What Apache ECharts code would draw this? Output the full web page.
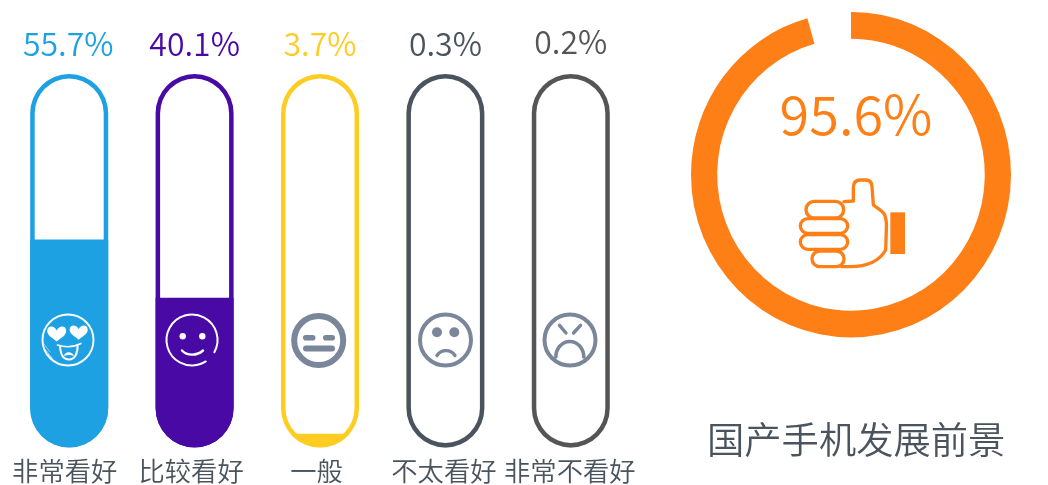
<!DOCTYPE html>
<html><head><meta charset="utf-8">
<style>html,body{margin:0;padding:0;background:#fff}#c{width:1048px;height:485px}</style>
<script src="https://cdn.jsdelivr.net/npm/echarts@6/dist/echarts.min.js"></script>
</head><body><div id="c"></div>
<script>
const categories = ['非常看好','比较看好','一般','不太看好','非常不看好'];
const shares = [55.7, 40.1, 3.7, 0.3, 0.2];
const shareColors = ['#1EA1E3','#4809A4','#FFCC22','#4A545E','#555555'];
const labelColors = ['#1EA1E3','#4809A4','#FFCC22','#4A545E','#555555'];
const positiveShare = [95.6];
const positiveTitle = '国产手机发展前景';
const FONT = '"Noto Sans CJK SC DemiLight","Noto Sans CJK SC","Noto Sans",sans-serif';
const ORANGE = '#FF7F17', GRAY = '#7A8699', INK = '#4A545E';

const capsule = 'path://M0 39A39 39 0 0 1 78 39V333A39 39 0 0 1 0 333Z';
const capsuleRing = capsule + 'M4.5 39V333A34.5 34.5 0 0 0 73.5 333V39A34.5 34.5 0 0 0 4.5 39Z';
const labelShift = [9, 7, 7, 3, 2];

function stroke(w, c) { return { fill: 'none', stroke: c, lineWidth: w, lineCap: 'round', lineJoin: 'round' }; }
function fillS(c) { return { fill: c }; }
let shapeId = 0;
function pathEl(d, style, extra) {
  const name = 'iconPath' + (shapeId++);
  echarts.graphic.registerShape(name, echarts.graphic.extendPath(d));
  return Object.assign({ type: name, style }, extra || {});
}
const heart = 'M0 7.5C-4 4 -9.5 1.5 -9.5 -3C-9.5 -8.5 -2.5 -9 0 -3.5C2.5 -9 9.5 -8.5 9.5 -3C9.5 1.5 4 4 0 7.5Z';

const icons = [
  // hearts-eyes face
  { type:'circle', shape:{cx:68,cy:340,r:25.5}, style:stroke(1.9,'#fff') },
  pathEl(heart, fillS('#fff'), {x:56.7, y:334}),
  pathEl(heart, fillS('#fff'), {x:78.7, y:332.5, scaleX:0.95, scaleY:0.95}),
  pathEl('M57.5 345C65 347.5 74 347 81 343.5', stroke(1.6,'#fff')),
  pathEl('M60 346C60.5 355 64 359.5 69 359.5C75 359.5 78 353 77.5 345', stroke(2,'#fff')),
  pathEl('M64 356C65 351 72 351 74 356C71 354.5 67 354.5 64 356Z', fillS('#fff')),
  pathEl('M44 344L50 352M45 349L52 358M48 354L54 361', stroke(0.7,'rgba(255,255,255,.75)')),
  // smile face
  { type:'arc', shape:{cx:192,cy:340,r:25.5,startAngle:0.5,endAngle:1.0,clockwise:false}, style:stroke(2,'#fff') },
  { type:'circle', shape:{cx:182.7,cy:336.3,r:3.2}, style:fillS('#fff') },
  { type:'circle', shape:{cx:202.3,cy:336.3,r:3.2}, style:fillS('#fff') },
  pathEl('M182 350.5C187 356 197 356 203 350.5', stroke(2.4,'#fff')),
  // neutral face
  { type:'circle', shape:{cx:318.7,cy:340.5,r:24.5}, style:stroke(6,GRAY) },
  { type:'rect', shape:{x:303,y:335,width:12.5,height:5.6,r:2.8}, style:fillS(GRAY) },
  { type:'rect', shape:{x:323,y:335,width:12,height:5.6,r:2.8}, style:fillS(GRAY) },
  { type:'rect', shape:{x:303,y:345.6,width:32,height:6,r:3}, style:fillS(GRAY) },
  // sad face
  { type:'circle', shape:{cx:445.5,cy:340,r:25.5}, style:stroke(4,GRAY) },
  { type:'circle', shape:{cx:437,cy:332.3,r:5}, style:fillS(GRAY) },
  { type:'circle', shape:{cx:454.3,cy:332.3,r:5}, style:fillS(GRAY) },
  pathEl('M437 355.5C441 349 451 349 455 355.5', stroke(3.4,GRAY)),
  // angry face
  { type:'circle', shape:{cx:570,cy:340,r:25.5}, style:stroke(4,GRAY) },
  pathEl('M559.5 325.3L566 333', stroke(3.4,GRAY)),
  pathEl('M580.5 325.3L573.5 333', stroke(3.4,GRAY)),
  pathEl('M555.8 357A14 15.5 0 0 1 583.8 357', stroke(3.6,GRAY)),
  // thumb up
  { type:'group', x:770, y:0, scaleX:1/3, scaleY:1/3, children:[
    { type:'rect', shape:{x:361,y:637,width:44,height:125}, style:fillS(ORANGE) },
    pathEl('M222 605L250 603L250 562C250 548 258 540 272 540L288 540C300 540 305 548 306 560L310 615C322 625 338 632 344 645C350 658 350 672 349 690L347 750C330 780 295 800 240 800L215 800', stroke(10,ORANGE)),
    { type:'rect', shape:{x:108,y:604,width:113,height:50,r:25}, style:stroke(10,ORANGE) },
    { type:'rect', shape:{x:91,y:656,width:142,height:44,r:22}, style:stroke(10,ORANGE) },
    { type:'rect', shape:{x:91,y:704,width:142,height:44,r:22}, style:stroke(10,ORANGE) },
    { type:'rect', shape:{x:126,y:753,width:96,height:47,r:23}, style:stroke(10,ORANGE) }
  ]}
];
function withZ(list) {
  return list.map(el => el.children ? Object.assign({}, el, { children: withZ(el.children) }) : Object.assign({ z: 20 }, el));
}

function renderRing(params, api) {
  const v = api.value(0);
  const start = -Math.PI / 2;
  return { type:'group', children:[
    { type:'sector', x:851, y:174.7, scaleY:1.017,
      shape:{ cx:0, cy:0, r:160, r0:133.8, startAngle:start, endAngle:start + 2*Math.PI*v/100, clockwise:true },
      style:{ fill:ORANGE } },
    { type:'text', x:856, y:114,
      style:{ text:v.toFixed(1)+'%', fill:ORANGE, fontFamily:FONT, fontSize:54, fontWeight:300, align:'center', verticalAlign:'middle' } }
  ]};
}

const chart = echarts.init(document.getElementById('c'), null, { renderer: 'canvas' });
chart.setOption({
  animation: false,
  backgroundColor: '#fff',
  grid: { left: 6.5, top: 74, width: 627, height: 373.5, outerBoundsMode: 'none' },
  xAxis: { type: 'category',
    data: categories.map((c,i)=>({ value:c, textStyle:{ padding:[0,labelShift[i],0,0] } })),
    axisLine:{show:false}, axisTick:{show:false}, splitLine:{show:false},
    axisLabel:{ interval:0, color:INK, fontFamily:FONT, fontSize:26.3, fontWeight:300, margin:7, lineHeight:34 } },
  yAxis: { type: 'value', min: 0, max: 100, show: false },
  title: { text: positiveTitle, left: 702, top: 410,
    textStyle: { color: INK, fontFamily: FONT, fontSize: 37.3, fontWeight: 300, lineHeight: 50 } },
  series: [
    { type:'pictorialBar', name:'fill', z:2, silent:true, barWidth:78, barGap:'-100%',
      symbol:capsule, symbolSize:[78,373.5], symbolPosition:'start', symbolClip:true, symbolBoundingData:100,
      data: shares.map((v,i)=>({ value:v, itemStyle:{ color:shareColors[i] } })) },
    { type:'pictorialBar', name:'outline', z:3, silent:true, barWidth:78, barGap:'-100%',
      symbol:capsuleRing, symbolSize:[78,373.5], symbolPosition:'start', symbolBoundingData:100,
      label:{ show:true, position:'top', distance:14, fontFamily:FONT, fontSize:32, fontWeight:300,
        formatter:p=>shares[p.dataIndex].toFixed(1)+'%' },
      data: shares.map((v,i)=>({ value:100, itemStyle:{ color:shareColors[i] },
        label:{ color:labelColors[i], distance: i===4 ? 16 : 14, offset: i===0 ? [-1,0] : [0,0] } })) },
    { type:'custom', coordinateSystem:'none', silent:true, clip:false, renderItem:renderRing, data:[positiveShare] }
  ],
  graphic: { elements: [{ type:'group', silent:true, children: withZ(icons) }] }
});
</script></body></html>
